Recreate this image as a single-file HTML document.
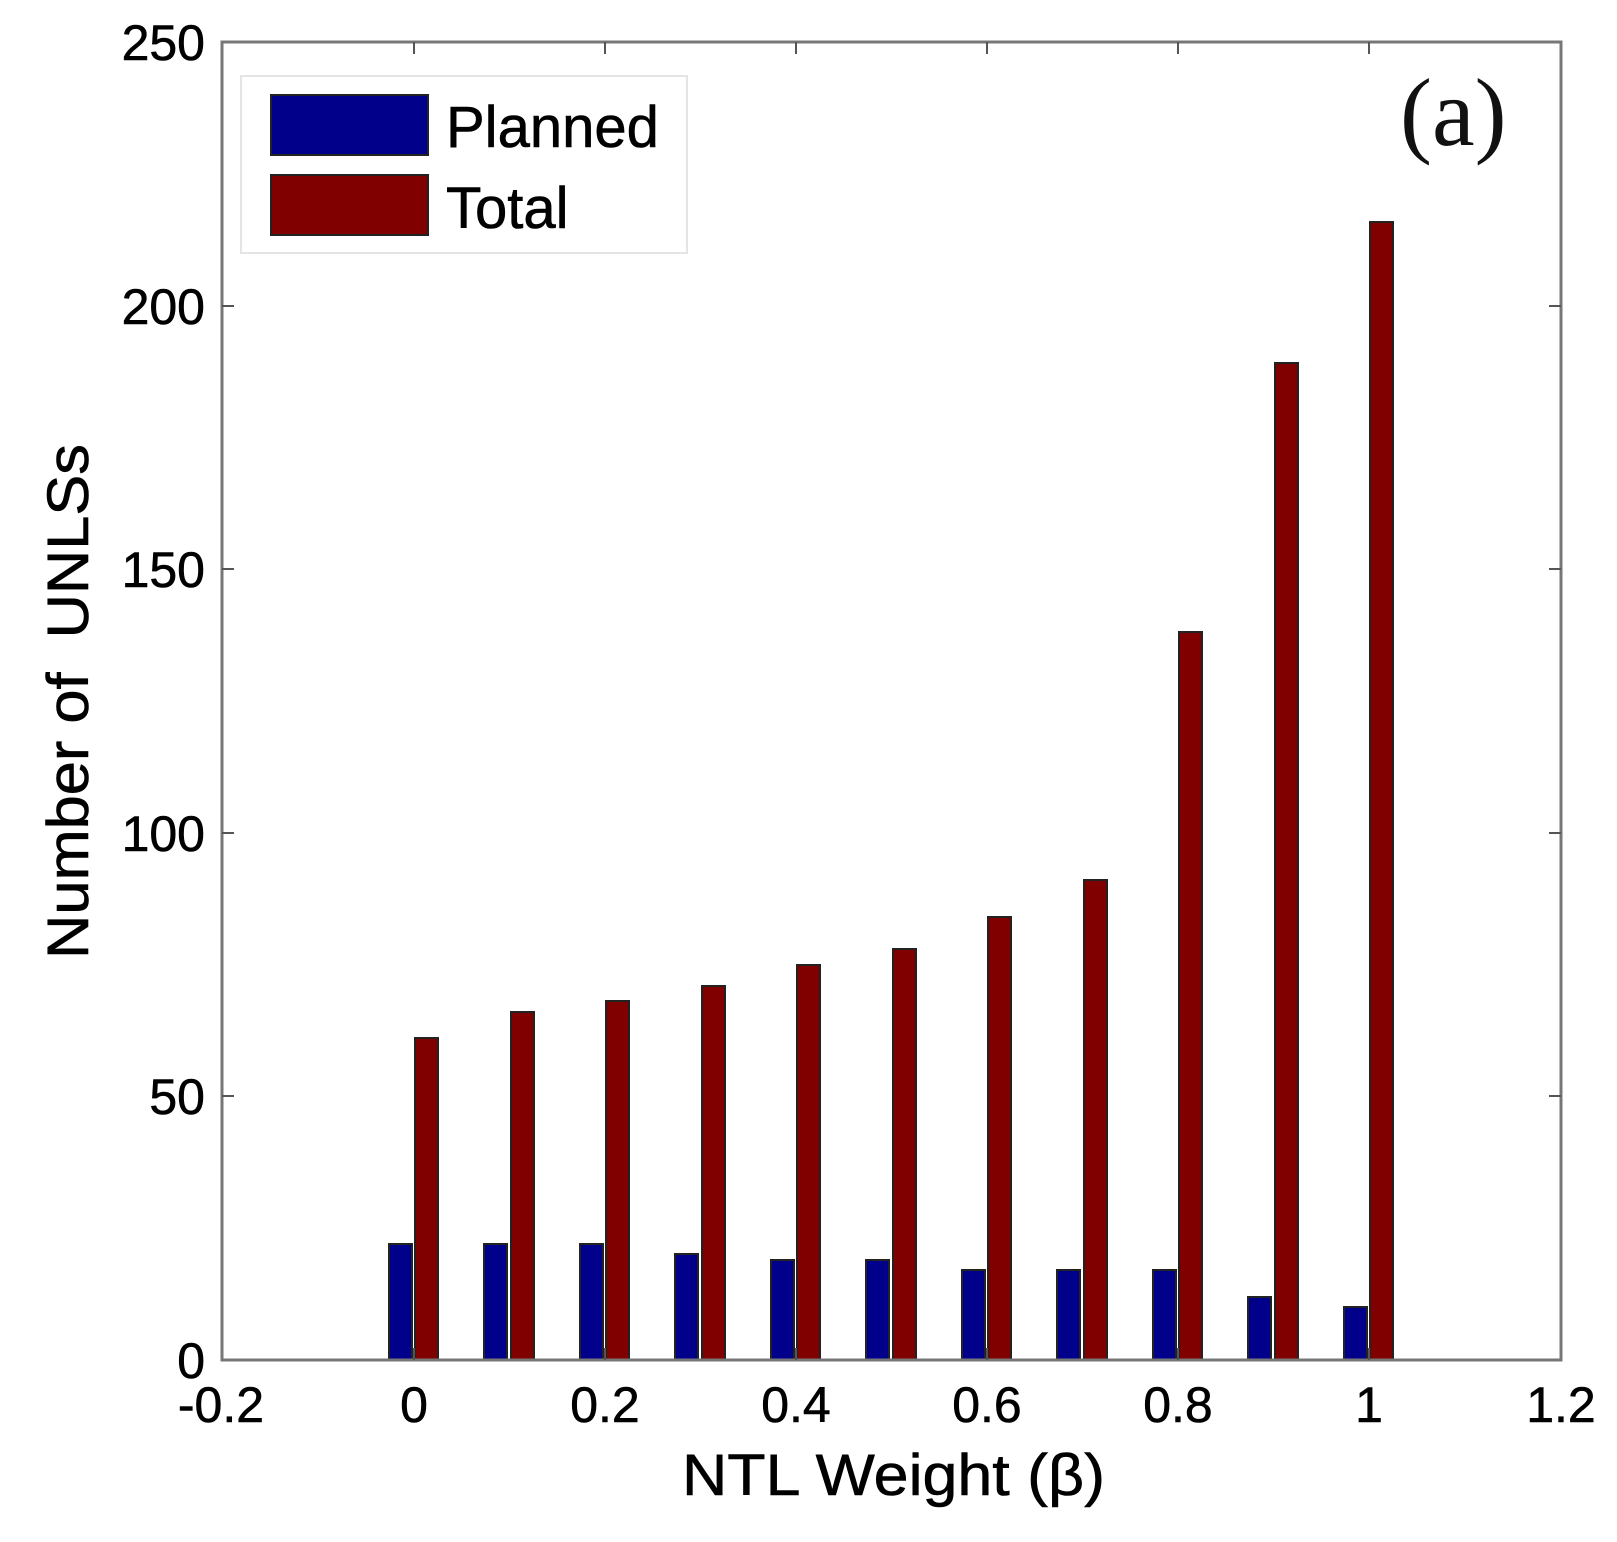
<!DOCTYPE html>
<html><head><meta charset="utf-8"><style>html,body{margin:0;padding:0;background:#fff}svg{display:block}</style></head>
<body>
<svg width="1617" height="1542" viewBox="0 0 1617 1542" xmlns="http://www.w3.org/2000/svg" font-family="Liberation Sans, Arial, sans-serif">
<rect width="1617" height="1542" fill="#fff"/>
<g stroke="#222" stroke-width="2">
<rect x="389" y="1244" width="23" height="116" fill="#00008b"/><rect x="415" y="1038" width="23" height="322" fill="#800000"/>
<rect x="484" y="1244" width="23" height="116" fill="#00008b"/><rect x="511" y="1012" width="23" height="348" fill="#800000"/>
<rect x="580" y="1244" width="23" height="116" fill="#00008b"/><rect x="606" y="1001" width="23" height="359" fill="#800000"/>
<rect x="675" y="1254" width="23" height="106" fill="#00008b"/><rect x="702" y="986" width="23" height="374" fill="#800000"/>
<rect x="771" y="1260" width="23" height="100" fill="#00008b"/><rect x="797" y="965" width="23" height="395" fill="#800000"/>
<rect x="866" y="1260" width="23" height="100" fill="#00008b"/><rect x="893" y="949" width="23" height="411" fill="#800000"/>
<rect x="962" y="1270" width="23" height="90" fill="#00008b"/><rect x="988" y="917" width="23" height="443" fill="#800000"/>
<rect x="1057" y="1270" width="23" height="90" fill="#00008b"/><rect x="1084" y="880" width="23" height="480" fill="#800000"/>
<rect x="1153" y="1270" width="23" height="90" fill="#00008b"/><rect x="1179" y="632" width="23" height="728" fill="#800000"/>
<rect x="1248" y="1297" width="23" height="63" fill="#00008b"/><rect x="1275" y="363" width="23" height="997" fill="#800000"/>
<rect x="1344" y="1307" width="23" height="53" fill="#00008b"/><rect x="1370" y="222" width="23" height="1138" fill="#800000"/>
</g>
<rect x="222" y="42" width="1339" height="1318" fill="none" stroke="#777" stroke-width="3"/>
<g stroke="#555" stroke-width="2">
<path d="M222 1096h12M222 833h12M222 569h12M222 306h12M1561 1096h-12M1561 833h-12M1561 569h-12M1561 306h-12"/>
<path d="M414 1360v-12M605 1360v-12M796 1360v-12M987 1360v-12M1178 1360v-12M1369 1360v-12M414 42v12M605 42v12M796 42v12M987 42v12M1178 42v12M1369 42v12"/>
</g>
<g font-size="50" fill="#000" stroke="#000" stroke-width="0.6" text-anchor="end">
<text x="205" y="1378">0</text><text x="205" y="1114">50</text><text x="205" y="851">100</text>
<text x="205" y="587">150</text><text x="205" y="324">200</text><text x="205" y="60">250</text>
</g>
<g font-size="50" fill="#000" stroke="#000" stroke-width="0.6" text-anchor="middle">
<text x="221" y="1422">-0.2</text><text x="414" y="1422">0</text><text x="605" y="1422">0.2</text>
<text x="796" y="1422">0.4</text><text x="987" y="1422">0.6</text><text x="1178" y="1422">0.8</text>
<text x="1369" y="1422">1</text><text x="1561" y="1422">1.2</text>
</g>
<text x="682" y="1495" font-size="58" fill="#000" stroke="#000" stroke-width="0.6" textLength="423" lengthAdjust="spacingAndGlyphs">NTL Weight (β)</text>
<text transform="translate(88,959) rotate(-90)" font-size="58" fill="#000" stroke="#000" stroke-width="0.6" textLength="515" lengthAdjust="spacingAndGlyphs">Number of&#160; UNLSs</text>
<rect x="241" y="76" width="446" height="177" fill="#fff" stroke="#e4e4e4" stroke-width="2"/>
<rect x="271" y="95" width="157" height="60" fill="#00008b" stroke="#222" stroke-width="2"/>
<rect x="271" y="175" width="157" height="60" fill="#800000" stroke="#222" stroke-width="2"/>
<text x="446" y="147" font-size="58" fill="#000" stroke="#000" stroke-width="0.6">Planned</text>
<text x="446" y="228" font-size="58" fill="#000" stroke="#000" stroke-width="0.6">Total</text>
<text x="1400" y="145" font-size="96" fill="#111" font-family="Liberation Serif, serif">(a)</text>
</svg>
</body></html>
